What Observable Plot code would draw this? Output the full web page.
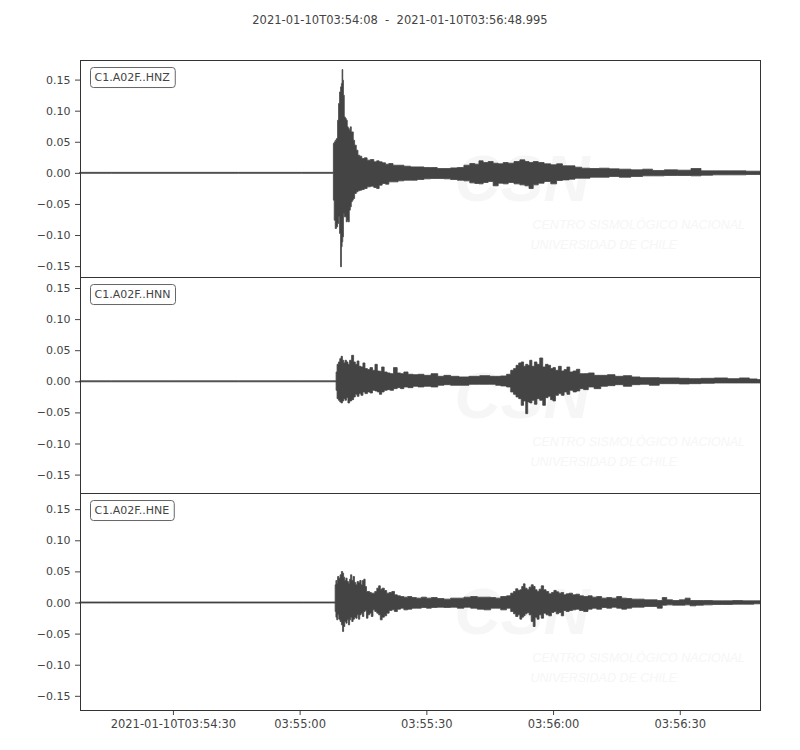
<!DOCTYPE html>
<html>
<head>
<meta charset="utf-8">
<script src="https://cdn.jsdelivr.net/npm/d3@7"></script>
<script src="https://cdn.jsdelivr.net/npm/@observablehq/plot@0.6"></script>
<style>
  html, body { margin: 0; padding: 0; background: #ffffff; }
  body { width: 800px; font-family: "DejaVu Sans", sans-serif; }
  #title { height: 40px; line-height: 40px; text-align: center; font-size: 11.5px; color: #444; white-space: pre; }
  #chart svg { display: block; overflow: visible; }
  #chart g[aria-label^="x-axis"] text { font-size: 11.5px; }
</style>
</head>
<body>
<div id="title"></div>
<div id="chart"></div>
<script>
// ---------------- data ----------------
const titleText = "2021-01-10T03:54:08  -  2021-01-10T03:56:48.995";
const startISO = "2021-01-10T03:54:08Z";
const endISO = "2021-01-10T03:56:48.995Z";

const channels = ["C1.A02F..HNZ", "C1.A02F..HNN", "C1.A02F..HNE"];

const xTickTimes = ["2021-01-10T03:54:30Z", "2021-01-10T03:55:00Z", "2021-01-10T03:55:30Z", "2021-01-10T03:56:00Z", "2021-01-10T03:56:30Z"];
const xTickLabels = ["2021-01-10T03:54:30", "03:55:00", "03:55:30", "03:56:00", "03:56:30"];
const yTicks = [-0.15, -0.10, -0.05, 0, 0.05, 0.10, 0.15];

const watermarkBig = "CSN";
const watermarkLines = ["CENTRO SISMOLÓGICO NACIONAL", "UNIVERSIDAD DE CHILE"];

// HNZ envelope: seconds after start, upper and lower amplitude
const hnzSec = [0, 15, 30, 45, 59.9,
  60.07, 60.31, 60.55, 60.87, 61.10, 61.34, 61.58, 61.81, 61.97, 62.13,
  62.29, 62.45, 62.68, 62.92, 63.16, 63.39, 63.63, 63.87, 64.11, 64.34,
  64.58, 64.82, 65.21, 65.61, 66.00, 66.40, 67.03, 67.58, 68.37, 69.16,
  69.96, 70.51, 71.14, 71.93, 72.72, 73.51, 74.70, 75.88, 77.47, 79.05,
  80.63, 82.21, 83.79, 85.37, 86.95, 88.53, 90.11, 91.69, 92.88, 94.06,
  94.85, 96.04, 97.23, 98.41, 99.60, 100.78, 101.97, 103.55, 104.74, 105.92,
  106.71, 107.90, 109.08, 110.67, 112.25, 113.43, 115.01, 116.60, 117.78, 119.75,
  121.73, 124.10, 126.47, 128.84, 132.01, 134.38, 136.75, 139.91, 143.07, 146.24,
  147.82, 151.77, 155.73, 159.68, 160.99];
const hnzHi = [0.0008, 0.0008, 0.0008, 0.0008, 0.0008,
  0.0472, 0.0498, 0.0525, 0.0552, 0.0847, 0.1115, 0.1302, 0.1383, 0.1436, 0.1661,
  0.1490, 0.1249, 0.0900, 0.0874, 0.0847, 0.0740, 0.0713, 0.0686, 0.0740, 0.0659,
  0.0659, 0.0525, 0.0445, 0.0364, 0.0284, 0.0268, 0.0230, 0.0241, 0.0204, 0.0214,
  0.0177, 0.0193, 0.0177, 0.0161, 0.0139, 0.0150, 0.0123, 0.0123, 0.0107, 0.0096,
  0.0096, 0.0086, 0.0086, 0.0070, 0.0070, 0.0080, 0.0086, 0.0123, 0.0150, 0.0139,
  0.0193, 0.0166, 0.0182, 0.0155, 0.0145, 0.0166, 0.0155, 0.0182, 0.0209, 0.0182,
  0.0166, 0.0182, 0.0166, 0.0145, 0.0129, 0.0145, 0.0113, 0.0113, 0.0091, 0.0075,
  0.0070, 0.0075, 0.0064, 0.0059, 0.0048, 0.0059, 0.0038, 0.0048, 0.0043, 0.0070,
  0.0032, 0.0032, 0.0032, 0.0027, 0.0027];
const hnzLo = [-0.0008, -0.0008, -0.0008, -0.0008, -0.0008,
  -0.0439, -0.0761, -0.0895, -0.0868, -0.0815, -0.0707, -0.0975, -0.1511, -0.1190, -0.1109,
  -0.1029, -0.0654, -0.0707, -0.0707, -0.0788, -0.0761, -0.0788, -0.0600, -0.0547, -0.0466,
  -0.0439, -0.0413, -0.0332, -0.0305, -0.0289, -0.0279, -0.0268, -0.0252, -0.0225, -0.0214,
  -0.0236, -0.0252, -0.0198, -0.0171, -0.0182, -0.0145, -0.0145, -0.0129, -0.0118, -0.0118,
  -0.0107, -0.0096, -0.0091, -0.0091, -0.0096, -0.0107, -0.0118, -0.0129, -0.0161, -0.0171,
  -0.0177, -0.0155, -0.0139, -0.0209, -0.0166, -0.0177, -0.0155, -0.0177, -0.0193, -0.0209,
  -0.0252, -0.0193, -0.0166, -0.0139, -0.0177, -0.0123, -0.0113, -0.0102, -0.0086, -0.0086,
  -0.0070, -0.0070, -0.0059, -0.0070, -0.0059, -0.0048, -0.0048, -0.0043, -0.0043, -0.0048,
  -0.0038, -0.0032, -0.0032, -0.0027, -0.0027];

// HNN envelope
const hnnSec = [0, 15, 30, 45, 60.55,
  60.71, 61.02, 61.34, 61.66, 61.97, 62.29, 62.60, 62.92, 63.24, 63.63,
  64.03, 64.58, 64.98, 65.37, 65.85, 66.24, 66.79, 67.19, 67.74, 68.37,
  68.93, 69.56, 70.11, 70.67, 71.14, 71.69, 72.33, 73.12, 73.75, 74.70,
  75.49, 76.28, 77.07, 78.25, 79.44, 80.63, 82.21, 84.03, 85.37, 86.95,
  88.53, 90.90, 93.27, 96.04, 98.02,
  98.81, 100.39, 101.58, 102.37, 102.92, 103.55, 104.18, 104.74, 105.29, 105.76,
  106.24, 106.71, 107.27, 107.90, 108.45, 109.24, 109.87, 110.50, 111.13, 111.69,
  112.24, 112.88, 113.67, 114.22, 115.01, 115.56, 116.35, 117.14, 117.93, 118.72,
  119.75, 120.93, 122.51, 124.10, 125.68, 127.65, 129.63, 131.61, 133.58, 135.95,
  138.32, 140.69, 143.07, 145.44, 148.60, 151.76, 154.92, 157.29, 159.66, 160.99];
const hnnHi = [0.0008, 0.0008, 0.0008, 0.0008, 0.0008,
  0.0150, 0.0273, 0.0311, 0.0364, 0.0402, 0.0338, 0.0295, 0.0338, 0.0311, 0.0273,
  0.0338, 0.0418, 0.0311, 0.0273, 0.0327, 0.0241, 0.0230, 0.0295, 0.0204, 0.0188,
  0.0220, 0.0177, 0.0273, 0.0166, 0.0161, 0.0230, 0.0150, 0.0134, 0.0123, 0.0220,
  0.0134, 0.0123, 0.0150, 0.0113, 0.0107, 0.0113, 0.0096, 0.0123, 0.0080, 0.0096,
  0.0080, 0.0070, 0.0080, 0.0091, 0.0080,
  0.0080, 0.0086, 0.0113, 0.0177, 0.0204, 0.0257, 0.0295, 0.0311, 0.0241, 0.0273,
  0.0257, 0.0338, 0.0241, 0.0311, 0.0273, 0.0375, 0.0230, 0.0273, 0.0257, 0.0204,
  0.0220, 0.0177, 0.0241, 0.0166, 0.0188, 0.0230, 0.0150, 0.0166, 0.0193, 0.0123,
  0.0123, 0.0134, 0.0096, 0.0096, 0.0107, 0.0080, 0.0091, 0.0070, 0.0059, 0.0059,
  0.0054, 0.0054, 0.0048, 0.0043, 0.0048, 0.0054, 0.0043, 0.0054, 0.0038, 0.0027];
const hnnLo = [-0.0008, -0.0008, -0.0008, -0.0008, -0.0008,
  -0.0145, -0.0279, -0.0305, -0.0332, -0.0348, -0.0316, -0.0279, -0.0305, -0.0263, -0.0348,
  -0.0316, -0.0295, -0.0252, -0.0209, -0.0241, -0.0198, -0.0225, -0.0171, -0.0198, -0.0171,
  -0.0188, -0.0145, -0.0155, -0.0171, -0.0209, -0.0171, -0.0145, -0.0134, -0.0145, -0.0118,
  -0.0102, -0.0118, -0.0091, -0.0102, -0.0080, -0.0091, -0.0080, -0.0091, -0.0064, -0.0054,
  -0.0064, -0.0064, -0.0048, -0.0048, -0.0048,
  -0.0064, -0.0075, -0.0091, -0.0171, -0.0209, -0.0252, -0.0279, -0.0386, -0.0316, -0.0520,
  -0.0332, -0.0348, -0.0305, -0.0370, -0.0279, -0.0305, -0.0386, -0.0263, -0.0241, -0.0295,
  -0.0316, -0.0225, -0.0198, -0.0225, -0.0171, -0.0209, -0.0145, -0.0171, -0.0155, -0.0118,
  -0.0134, -0.0091, -0.0118, -0.0080, -0.0070, -0.0054, -0.0080, -0.0054, -0.0048, -0.0064,
  -0.0038, -0.0038, -0.0043, -0.0038, -0.0032, -0.0027, -0.0027, -0.0027, -0.0027, -0.0027];

// HNE envelope
const hneSec = [0, 15, 30, 45, 60.35,
  60.47, 60.71, 60.87, 61.10, 61.42, 61.73, 62.05, 62.29, 62.53, 62.84,
  63.08, 63.39, 63.71, 63.95, 64.19, 64.50, 64.82, 65.13, 65.45, 65.76,
  66.08, 66.40, 66.71, 67.03, 67.35, 67.66, 67.98, 68.37, 68.77, 69.16,
  69.56, 70.03, 70.51, 70.90, 71.30, 71.77, 72.33, 72.88, 73.51, 74.14,
  74.78, 75.49, 76.28, 77.07, 78.10, 79.05, 80.23, 81.42, 82.60, 83.79,
  85.37, 86.95, 88.53, 90.11, 91.69, 93.27, 94.85, 96.44, 98.02,
  98.81, 100.39, 101.58, 102.37, 102.92, 103.40, 103.95, 104.34, 104.82, 105.13,
  105.61, 106.08, 106.56, 107.11, 107.51, 107.98, 108.45, 108.93, 109.48, 110.03,
  110.66, 111.30, 111.93, 112.48, 113.04, 113.67, 114.22, 114.78, 115.41, 116.20,
  116.99, 117.78, 118.72, 119.75, 120.78, 121.73, 122.91, 124.10, 125.29, 126.47,
  127.65, 128.84, 130.03, 131.21, 132.79, 134.38, 135.96, 137.38, 138.32, 139.51,
  141.09, 142.67, 143.86, 145.04, 146.62, 148.60, 150.97, 153.34, 155.71, 158.08, 160.99];
const hneHi = [0.0008, 0.0008, 0.0008, 0.0008, 0.0008,
  0.0284, 0.0354, 0.0311, 0.0418, 0.0391, 0.0445, 0.0498, 0.0472, 0.0407, 0.0354,
  0.0391, 0.0338, 0.0311, 0.0375, 0.0445, 0.0354, 0.0418, 0.0322, 0.0284, 0.0338,
  0.0322, 0.0354, 0.0284, 0.0354, 0.0375, 0.0257, 0.0177, 0.0177, 0.0161, 0.0150,
  0.0150, 0.0177, 0.0230, 0.0268, 0.0214, 0.0230, 0.0193, 0.0150, 0.0161, 0.0177,
  0.0123, 0.0107, 0.0096, 0.0086, 0.0096, 0.0080, 0.0070, 0.0086, 0.0070, 0.0080,
  0.0064, 0.0054, 0.0070, 0.0070, 0.0086, 0.0096, 0.0086, 0.0086, 0.0080,
  0.0070, 0.0096, 0.0107, 0.0150, 0.0177, 0.0220, 0.0193, 0.0204, 0.0257, 0.0300,
  0.0230, 0.0204, 0.0247, 0.0284, 0.0257, 0.0204, 0.0177, 0.0214, 0.0268, 0.0204,
  0.0177, 0.0139, 0.0161, 0.0193, 0.0171, 0.0150, 0.0161, 0.0123, 0.0139, 0.0150,
  0.0123, 0.0134, 0.0107, 0.0096, 0.0107, 0.0086, 0.0096, 0.0070, 0.0080, 0.0070,
  0.0096, 0.0070, 0.0064, 0.0054, 0.0054, 0.0043, 0.0043, 0.0032, 0.0080, 0.0043,
  0.0032, 0.0043, 0.0070, 0.0032, 0.0032, 0.0032, 0.0027, 0.0027, 0.0032, 0.0027, 0.0027];
const hneLo = [-0.0008, -0.0008, -0.0008, -0.0008, -0.0008,
  -0.0145, -0.0236, -0.0279, -0.0198, -0.0268, -0.0305, -0.0359, -0.0466, -0.0386, -0.0305,
  -0.0332, -0.0279, -0.0359, -0.0279, -0.0236, -0.0305, -0.0268, -0.0236, -0.0252, -0.0198,
  -0.0268, -0.0198, -0.0171, -0.0225, -0.0145, -0.0129, -0.0252, -0.0198, -0.0171, -0.0225,
  -0.0118, -0.0145, -0.0171, -0.0198, -0.0279, -0.0236, -0.0214, -0.0171, -0.0129, -0.0118,
  -0.0145, -0.0107, -0.0091, -0.0118, -0.0107, -0.0091, -0.0091, -0.0080, -0.0091, -0.0080,
  -0.0075, -0.0080, -0.0075, -0.0091, -0.0075, -0.0091, -0.0107, -0.0118, -0.0091,
  -0.0091, -0.0118, -0.0091, -0.0145, -0.0182, -0.0225, -0.0198, -0.0268, -0.0236, -0.0214,
  -0.0182, -0.0161, -0.0198, -0.0305, -0.0386, -0.0236, -0.0268, -0.0198, -0.0252, -0.0171,
  -0.0198, -0.0214, -0.0161, -0.0145, -0.0182, -0.0161, -0.0214, -0.0129, -0.0145, -0.0129,
  -0.0118, -0.0107, -0.0129, -0.0145, -0.0107, -0.0091, -0.0107, -0.0080, -0.0091, -0.0075,
  -0.0091, -0.0107, -0.0091, -0.0075, -0.0075, -0.0064, -0.0064, -0.0091, -0.0043, -0.0038,
  -0.0043, -0.0043, -0.0038, -0.0054, -0.0043, -0.0038, -0.0032, -0.0032, -0.0027, -0.0027, -0.0021];

// ---------------- chart ----------------
document.getElementById("title").textContent = titleText;

const start = new Date(startISO);
const end = new Date(endISO);
const tickDates = xTickTimes.map(s => new Date(s));

function rows(sec, hi, lo) {
  return sec.map((s, i) => ({time: new Date(start.getTime() + s * 1000), hi: hi[i], lo: lo[i]}));
}

const panels = [
  {name: channels[0], data: rows(hnzSec, hnzHi, hnzLo), domain: [-0.1675, 0.1815], height: 237, mt: 20, mb: 0, xaxis: false},
  {name: channels[1], data: rows(hnnSec, hnnHi, hnnLo), domain: [-0.1796, 0.1677], height: 216, mt: 0, mb: 0, xaxis: false},
  {name: channels[2], data: rows(hneSec, hneHi, hneLo), domain: [-0.1728, 0.1760], height: 257, mt: 0, mb: 40, xaxis: true}
];

const wave = "#444444";
const wmFill = "#f6f6f6";
const chart = document.getElementById("chart");
const SVGNS = "http://www.w3.org/2000/svg";

for (const p of panels) {
  const svg = Plot.plot({
    width: 800,
    height: p.height,
    marginLeft: 80,
    marginRight: 40,
    marginTop: p.mt,
    marginBottom: p.mb,
    style: {fontFamily: "DejaVu Sans, sans-serif", fontSize: "11px", color: "#444", background: "transparent", overflow: "visible"},
    x: {
      type: "utc",
      domain: [start, end],
      axis: p.xaxis ? "bottom" : null,
      ticks: tickDates,
      tickFormat: d => {
        const i = tickDates.findIndex(t => t.getTime() === +d);
        return i >= 0 ? xTickLabels[i] : "";
      },
      tickSize: 5,
      tickPadding: 4,
      label: null
    },
    y: {
      domain: p.domain,
      ticks: yTicks,
      tickFormat: ".2f",
      tickSize: 5,
      tickPadding: 5,
      label: null
    },
    marks: [
      Plot.text([watermarkBig], {frameAnchor: "top-left", dx: 374, dy: 120, text: d => d, textAnchor: "start", lineAnchor: "middle", fontSize: 64, fontWeight: "bold", fontStyle: "italic", fontFamily: "Liberation Sans, sans-serif", fill: wmFill}),
      Plot.text([watermarkLines[0]], {frameAnchor: "top-left", dx: 452, dy: 164, text: d => d, textAnchor: "start", lineAnchor: "middle", fontSize: 12.5, fontStyle: "italic", fontFamily: "Liberation Sans, sans-serif", fill: wmFill}),
      Plot.text([watermarkLines[1]], {frameAnchor: "top-left", dx: 450, dy: 184, text: d => d, textAnchor: "start", lineAnchor: "middle", fontSize: 12.5, fontStyle: "italic", fontFamily: "Liberation Sans, sans-serif", fill: wmFill}),
      Plot.areaY(p.data, {x: "time", y1: "lo", y2: "hi", fill: wave, stroke: wave, strokeWidth: 0.8, curve: "step"}),
      Plot.frame({stroke: "#333"}),
      Plot.text([p.name], {frameAnchor: "top-left", dx: 14, dy: 17, text: d => d, textAnchor: "start", lineAnchor: "middle", fontSize: 11, fill: "#444"})
    ]
  });
  chart.appendChild(svg);

  // rounded box behind the channel label
  const texts = Array.from(svg.querySelectorAll("text"));
  const t = texts.find(e => e.textContent === p.name);
  if (t) {
    try {
      const bb = t.getBBox();
      const r = document.createElementNS(SVGNS, "rect");
      r.setAttribute("x", bb.x - 4);
      r.setAttribute("y", bb.y - 3.5);
      r.setAttribute("width", bb.width + 9);
      r.setAttribute("height", bb.height + 7);
      r.setAttribute("rx", 3);
      r.setAttribute("ry", 3);
      r.setAttribute("fill", "white");
      r.setAttribute("stroke", "#666");
      r.setAttribute("stroke-width", 1);
      if (t.getAttribute("transform")) r.setAttribute("transform", t.getAttribute("transform"));
      t.parentNode.insertBefore(r, t);
    } catch (e) { console.error(e); }
  }
}
</script>
</body>
</html>
